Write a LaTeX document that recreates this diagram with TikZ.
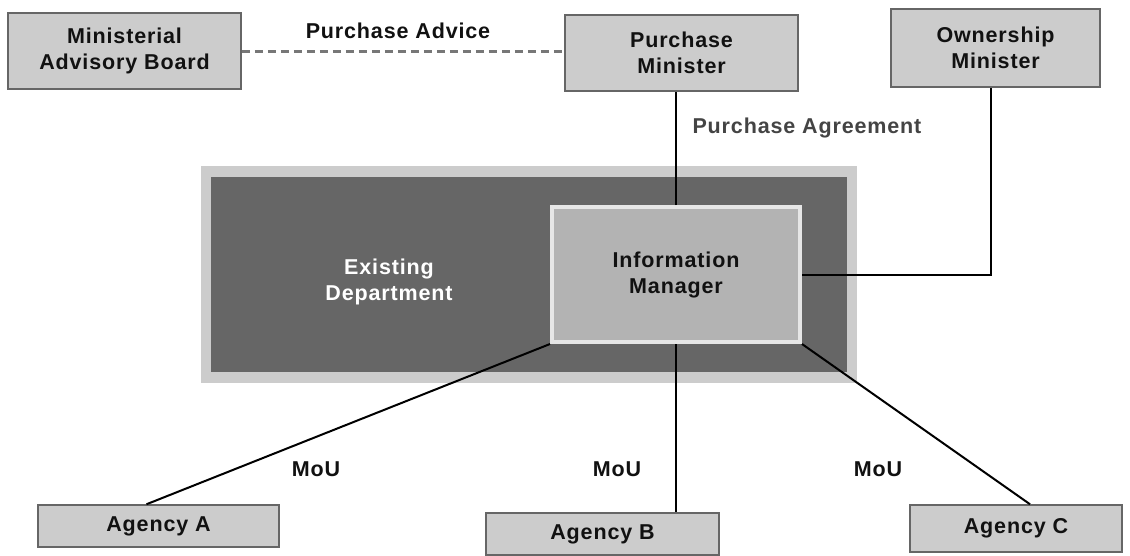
\documentclass[tikz,border=0pt]{standalone}
\usepackage{fontspec}
\setmainfont{Liberation Sans}[LetterSpace=4]
\usetikzlibrary{calc}
\definecolor{boxfill}{HTML}{CCCCCC}
\definecolor{boxline}{HTML}{666666}
\definecolor{deptdark}{HTML}{666666}
\definecolor{imfill}{HTML}{B3B3B3}
\definecolor{imline}{HTML}{E6E6E6}
\definecolor{dashgray}{HTML}{777777}
\definecolor{labelgray}{HTML}{444444}
\definecolor{inktext}{HTML}{111111}
\begin{document}
\begin{tikzpicture}[x=1pt,y=-1pt,
  txt/.style={font=\bfseries\fontsize{21.5}{26}\selectfont, align=center, text=inktext},
  gbox/.style={txt, draw=boxline, fill=boxfill, line width=1.5pt, inner sep=0pt},
  conn/.style={draw=black, line width=2pt},
  advice/.style={draw=dashgray, line width=3pt, dash pattern=on 8pt off 5pt}]
\useasboundingbox (0,0) rectangle (1130,555);
\fill[white] (0,0) rectangle (1130,555);
% department
\node (deptout) [fill=boxfill, minimum width=656, minimum height=217, inner sep=0pt] at (529,274.5) {};
\node (dept) [fill=deptdark, minimum width=636, minimum height=195, inner sep=0pt] at (529,274.5) {};
\node (deptlbl) [txt, text=white] at (389,282) {Existing\\Department};
% boxes
\node (mab) [gbox, minimum width=233, minimum height=76] at (124.5,51) {Ministerial\\Advisory Board};
\node (pm) [gbox, minimum width=233, minimum height=76] at (681.5,53) {Purchase\\Minister};
\node (om) [gbox, minimum width=209, minimum height=78] at (995.5,48) {Ownership\\Minister};
\node (im) [txt, fill=imfill, draw=imline, line width=4pt, minimum width=248, minimum height=135, inner sep=0pt] at (676,274.5) {Information\\Manager};
\node (agA) [gbox, minimum width=241, minimum height=42] at (158.5,526) {Agency A};
\node (agB) [gbox, minimum width=233, minimum height=42] at (602.5,534) {Agency B};
\node (agC) [gbox, minimum width=212, minimum height=47] at (1016,528.5) {Agency C};
% connectors
\draw[advice] (mab.east) -- (mab.east -| pm.west);
\draw[conn] (im.north) -- (im.north |- pm.south);
\draw[conn] (im.east) -| ([xshift=-4.5pt]om.south);
\draw[conn] (im.south west) -- ([xshift=-12pt]agA.north);
\draw[conn] (im.south) -- (im.south |- agB.north);
\draw[conn] (im.south east) -- ([xshift=14pt]agC.north);
% labels
\node (lblAdvice) [txt] at (398,31) {Purchase Advice};
\node (lblAgree) [txt, text=labelgray, anchor=west] at (689,128) {Purchase Agreement};
\node (mouA) [txt] at (316,469) {MoU};
\node (mouB) [txt] at (617,469) {MoU};
\node (mouC) [txt] at (878,469) {MoU};
\end{tikzpicture}
\end{document}
